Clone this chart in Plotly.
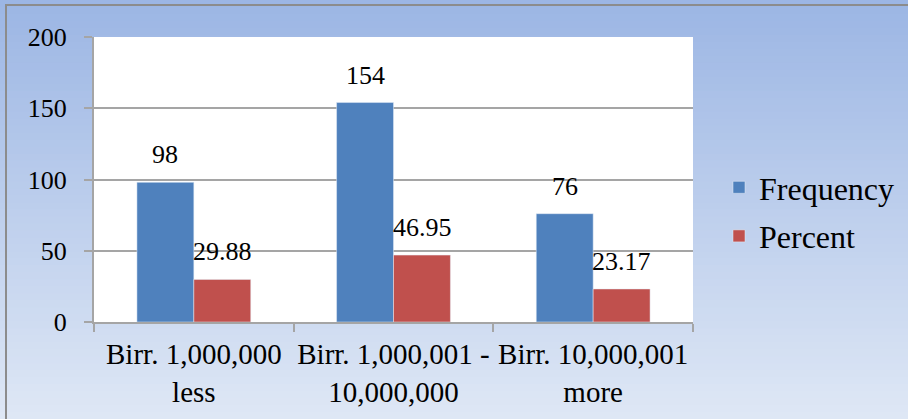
import plotly.graph_objects as go

# Income bands and survey counts
categories = ["Birr. 1,000,000<br>less", "Birr. 1,000,001 -<br>10,000,000", "Birr. 10,000,001<br>more"]
frequency = [98, 154, 76]
percent = [29.88, 46.95, 23.17]
y_ticks = [0, 50, 100, 150, 200]

W, H = 908, 419
L, R, T, B = 94, 215, 37, 97
pw, ph = W - L - R, H - T - B

FONT = "Liberation Serif, Times New Roman, serif"
BLUE = "#4F81BD"
RED = "#C0504D"
GRID = "#A5A5A5"
BAR_PX = 57  # approximate bar width in pixels, used to centre value labels


def px_to_paper_x(px):
    return (px - L) / pw


def px_to_paper_y(py):
    return (H - B - py) / ph


fig = go.Figure()
fig.add_trace(go.Bar(name="Frequency", x=categories, y=frequency, marker_color=BLUE,
                     legendgroup="f"))
fig.add_trace(go.Bar(name="Percent", x=categories, y=percent, marker_color=RED,
                     legendgroup="p"))

# Value labels above each bar
annotations = []
for series, shift, fmt in ((frequency, -BAR_PX / 2, "{:d}"), (percent, BAR_PX / 2, "{:.2f}")):
    for cat, v in zip(categories, series):
        annotations.append(dict(
            x=cat, y=v, xref="x", yref="y", text=fmt.format(v), showarrow=False,
            xanchor="center", yanchor="bottom", xshift=shift, yshift=11,
            font=dict(family=FONT, size=26, color="black"),
        ))

# Vertical background gradient across the whole figure
shapes = []
top_c = (0x9C, 0xB6, 0xE4)
bot_c = (0xDE, 0xE7, 0xF5)
n = 60
for i in range(n):
    t = i / (n - 1)
    c = tuple(round(top_c[k] + (bot_c[k] - top_c[k]) * t) for k in range(3))
    y0 = H * i / n
    y1 = H * (i + 1) / n + 1
    shapes.append(dict(
        type="rect", xref="paper", yref="paper", layer="below",
        x0=px_to_paper_x(-2), x1=px_to_paper_x(W + 2),
        y0=px_to_paper_y(y0), y1=px_to_paper_y(y1),
        fillcolor="rgb(%d,%d,%d)" % c, line_width=0,
    ))
# White plotting area
shapes.append(dict(type="rect", xref="paper", yref="paper", layer="below",
                   x0=0, x1=1, y0=0, y1=1, fillcolor="white", line_width=0))
# Chart frame (left and top edges)
shapes.append(dict(type="line", xref="paper", yref="paper", layer="above",
                   x0=px_to_paper_x(6), x1=px_to_paper_x(6),
                   y0=px_to_paper_y(4), y1=px_to_paper_y(H + 2),
                   line=dict(color="#8C8C8C", width=2)))
shapes.append(dict(type="line", xref="paper", yref="paper", layer="above",
                   x0=px_to_paper_x(5), x1=px_to_paper_x(W + 2),
                   y0=px_to_paper_y(5), y1=px_to_paper_y(5),
                   line=dict(color="#8C8C8C", width=2)))

fig.update_layout(
    width=W, height=H,
    margin=dict(l=L, r=R, t=T, b=B, pad=0, autoexpand=False),
    barmode="group", bargap=0.43, bargroupgap=0,
    paper_bgcolor="#C6D4EE", plot_bgcolor="white",
    font=dict(family=FONT, color="black"),
    shapes=shapes, annotations=annotations,
    showlegend=True,
    legend=dict(
        x=px_to_paper_x(719), y=px_to_paper_y(212), xanchor="left", yanchor="middle",
        font=dict(family=FONT, size=32, color="black"),
        bgcolor="rgba(0,0,0,0)", itemwidth=30, tracegroupgap=4,
        traceorder="grouped",
    ),
    xaxis=dict(
        type="category", tickson="boundaries", ticks="outside", ticklen=8,
        tickcolor=GRID, tickwidth=2, showgrid=False, showline=True,
        linecolor=GRID, linewidth=2, tickangle=0,
        tickfont=dict(family=FONT, size=29, color="black"),
        ticklabelstandoff=5,
    ),
    yaxis=dict(
        range=[0, 200], tickvals=y_ticks, ticks="outside", ticklen=8,
        tickcolor=GRID, tickwidth=2, showgrid=True, gridcolor=GRID, gridwidth=2,
        showline=True, linecolor=GRID, linewidth=2, zeroline=False,
        tickfont=dict(family=FONT, size=26, color="black"),
        ticklabelstandoff=12,
    ),
)

fig.write_html("out.html")
